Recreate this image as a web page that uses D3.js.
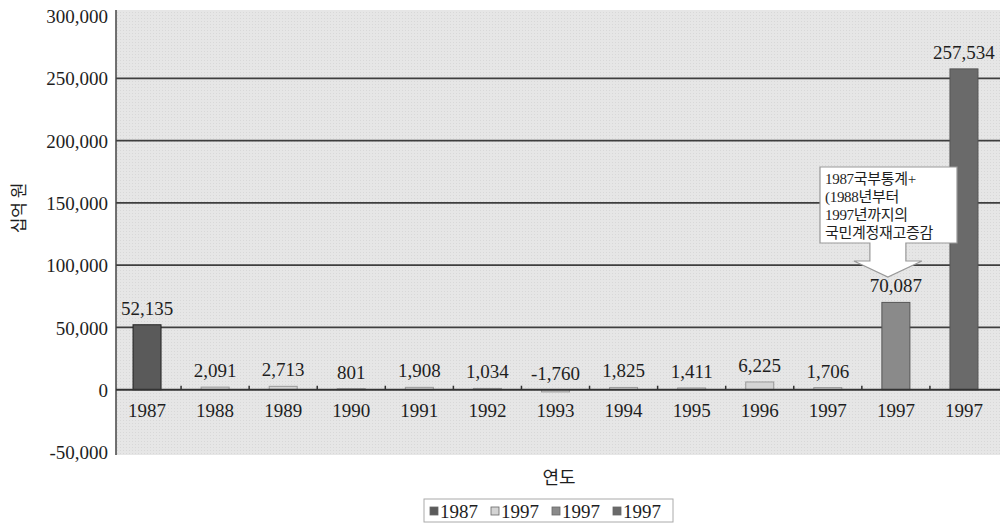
<!DOCTYPE html>
<html>
<head>
<meta charset="utf-8">
<script src="https://cdn.jsdelivr.net/npm/d3@7"></script>
<style>
  body { margin: 0; background: #fff; }
  svg { display: block; }
  text { font-family: "Liberation Serif", "Times New Roman", serif; fill: #1e1e1e; }
</style>
</head>
<body>
<div id="canvas-div"></div>
<script>
// chart data
const years = ['1987', '1988', '1989', '1990', '1991', '1992', '1993', '1994', '1995', '1996', '1997', '1997', '1997'];
const values = [52135, 2091, 2713, 801, 1908, 1034, -1760, 1825, 1411, 6225, 1706, 70087, 257534];
const seriesOf = [0, 1, 1, 1, 1, 1, 1, 1, 1, 1, 1, 2, 3];
const seriesNames = ['1987', '1997', '1997', '1997'];
const yTicks = [-50000, 0, 50000, 100000, 150000, 200000, 250000, 300000];
const note = ['1987국부통계+', '(1988년부터', '1997년까지의', '국민계정재고증감'];

const w = 1000;
const h = 525;
const seriesColors = ['#5a5a5a', '#d4d4d4', '#8a8a8a', '#6a6a6a'];
const fmt = d => d3.format(',')(d).replace('\u2212', '-');

const svg = d3.select('#canvas-div').append('svg').attr('width', w).attr('height', h);

// texture for the scanned plot background
const defs = svg.append('defs');
const pat = defs.append('pattern').attr('id', 'dots').attr('width', 3).attr('height', 3).attr('patternUnits', 'userSpaceOnUse');
pat.append('rect').attr('width', 3).attr('height', 3).attr('fill', '#e6e6e6');
pat.append('rect').attr('width', 1).attr('height', 1).attr('fill', '#d8d8d8');

const plotLeft = 116, plotRight = 1000, plotTop = 10, plotBottom = 455;

const xScale = d3.scaleBand()
    .domain(d3.range(years.length))
    .range([113, 998]);

const yScale = d3.scaleLinear()
    .domain([-50000, 300000])
    .range([452, 16]);

svg.append('rect')
   .attr('x', plotLeft).attr('y', plotTop)
   .attr('width', plotRight - plotLeft).attr('height', plotBottom - plotTop)
   .attr('fill', 'url(#dots)');

// gridlines
svg.selectAll('.grid')
   .data(yTicks.filter(d => d > -50000 && d < 300000 && d != 0))
   .enter()
   .append('line')
   .attr('class', 'grid')
   .attr('x1', plotLeft).attr('x2', plotRight)
   .attr('y1', d => yScale(d)).attr('y2', d => yScale(d))
   .attr('stroke', '#3e3e3e')
   .attr('stroke-width', 1.8);

// y axis labels
const yAxis = d3.axisLeft(yScale).tickValues(yTicks).tickSize(0).tickPadding(8).tickFormat(fmt);
const gy = svg.append('g').attr('transform', `translate(${plotLeft}, 0)`).call(yAxis)
              .attr('font-family', null).attr('font-size', null);
gy.select('.domain').remove();
gy.selectAll('text').attr('font-size', 19).attr('fill', '#1e1e1e').attr('dy', '0.35em');
svg.append('line')
   .attr('x1', plotLeft).attr('x2', plotLeft)
   .attr('y1', plotTop).attr('y2', plotBottom)
   .attr('stroke', '#444').attr('stroke-width', 1.5);

// bars
svg.selectAll('.bar')
   .data(values)
   .enter()
   .append('rect')
   .attr('class', 'bar')
   .attr('x', (d, i) => xScale(i) + xScale.bandwidth() / 2 - 14)
   .attr('width', 28)
   .attr('y', d => yScale(Math.max(0, d)))
   .attr('height', d => Math.abs(yScale(d) - yScale(0)))
   .attr('fill', (d, i) => seriesColors[seriesOf[i]])
   .attr('stroke', (d, i) => seriesOf[i] == 0 ? '#222' : seriesOf[i] == 1 ? '#999' : '#555')
   .attr('stroke-width', 1);

// zero line and category ticks
svg.append('line')
   .attr('x1', plotLeft).attr('x2', plotRight)
   .attr('y1', yScale(0)).attr('y2', yScale(0))
   .attr('stroke', '#333').attr('stroke-width', 2);

svg.selectAll('.xtick')
   .data(d3.range(1, years.length))
   .enter()
   .append('line')
   .attr('x1', d => xScale(d)).attr('x2', d => xScale(d))
   .attr('y1', yScale(0) - 4).attr('y2', yScale(0))
   .attr('stroke', '#333').attr('stroke-width', 1.5);

// category labels
svg.selectAll('.xlabel')
   .data(years)
   .enter()
   .append('text')
   .attr('x', (d, i) => xScale(i) + xScale.bandwidth() / 2)
   .attr('y', yScale(0) + 27)
   .attr('text-anchor', 'middle')
   .attr('font-size', 19)
   .text(d => d);

// value labels
svg.selectAll('.vlabel')
   .data(values)
   .enter()
   .append('text')
   .attr('x', (d, i) => xScale(i) + xScale.bandwidth() / 2)
   .attr('y', d => yScale(Math.max(0, d)) - 10)
   .attr('text-anchor', 'middle')
   .attr('font-size', 19)
   .text(d => fmt(d));

// callout box with arrow
const bx = 820, by = 167, bw = 137, bh = 76;
const ax = xScale(11) + xScale.bandwidth() / 2 - 8;
svg.append('path')
   .attr('d', `M${bx},${by} H${bx + bw} V${by + bh} H${ax + 18} V${by + bh + 18} H${ax + 34} L${ax},${by + bh + 34} L${ax - 34},${by + bh + 18} H${ax - 18} V${by + bh} H${bx} Z`)
   .attr('fill', '#fff')
   .attr('stroke', '#999')
   .attr('stroke-width', 1.2);

svg.selectAll('.note')
   .data(note)
   .enter()
   .append('text')
   .attr('x', bx + 5)
   .attr('y', (d, i) => by + 17 + i * 18)
   .attr('font-size', 15)
   .style('font-family', '"Liberation Serif", "Noto Sans CJK KR", serif')
   .style('letter-spacing', '-0.3px')
   .text(d => d);

// axis titles
svg.append('text')
   .attr('transform', 'translate(25, 208) rotate(-90)')
   .attr('text-anchor', 'middle')
   .attr('font-size', 17)
   .style('font-family', '"Noto Sans CJK KR", sans-serif')
   .attr('fill', '#444')
   .text('십억 원');

svg.append('text')
   .attr('x', 559)
   .attr('y', 484)
   .attr('text-anchor', 'middle')
   .attr('font-size', 18)
   .style('font-family', '"Noto Sans CJK KR", sans-serif')
   .attr('fill', '#444')
   .text('연도');

// legend
const legend = svg.append('g').attr('transform', 'translate(424, 499)');
legend.append('rect')
      .attr('width', 249).attr('height', 23)
      .attr('fill', '#fff').attr('stroke', '#aaa');
const items = legend.selectAll('.item')
      .data(seriesNames)
      .enter()
      .append('g')
      .attr('transform', (d, i) => `translate(${6 + i * 61}, 0)`);
items.append('rect')
     .attr('y', 8).attr('width', 8).attr('height', 8)
     .attr('fill', (d, i) => seriesColors[i])
     .attr('stroke', '#666').attr('stroke-width', 0.8);
items.append('text')
     .attr('x', 10).attr('y', 19)
     .attr('font-size', 19)
     .text(d => d);
</script>
</body>
</html>
